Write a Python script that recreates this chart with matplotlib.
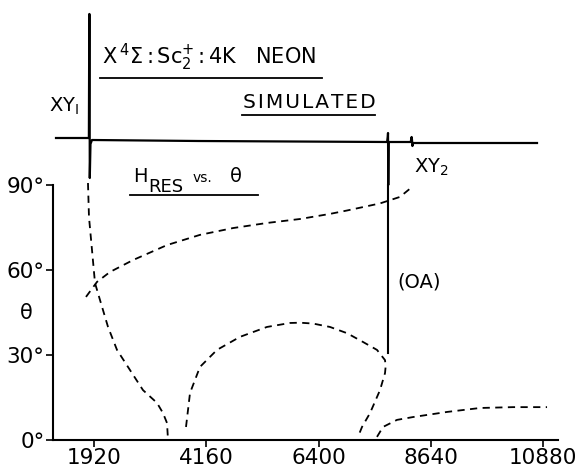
import matplotlib
matplotlib.use("Agg")
import matplotlib.pyplot as plt
from matplotlib.lines import Line2D

W, H = 579, 468

# field axis (gauss) and angle axis (degrees)
x_ticks = [1920, 4160, 6400, 8640, 10880]
y_ticks = [0, 30, 60, 90]
y_labels = ["0°", "30°", "60°", "90°"]

# simulated derivative spectrum, arbitrary units (0 = baseline)
spec_h = [1162, 1818, 1826, 1830, 1836, 1850, 1880, 4000, 7770, 7782,
          7787, 7792, 7800, 8240, 8258, 8266, 8274, 8290, 10760]
spec_amp = [0, 0, 124, 124, -40, -6, -2, -3, -4, 1,
            5, -47, -4, -4, 1, -2, -8, -5, -5]

# H_RES vs theta branches
a_h = [1800, 1820, 1880, 1940, 2040, 2200, 2379, 2638, 2898, 3177, 3297, 3377, 3397]
a_t = [90.7, 78.7, 67.1, 55.4, 49.4, 39.9, 31.8, 24.7, 17.6, 13.1, 9.5, 6.0, 0.0]

b_h = [1760, 1980, 2239, 2698, 3377, 4035, 4694, 5372, 6031, 6629, 6969, 7627, 8026, 8266]
b_t = [50.5, 55.8, 59.3, 63.5, 68.8, 72.4, 74.8, 76.6, 78.0, 79.8, 81.0, 83.5, 85.8, 89.3]

c_h = [3756, 3836, 4035, 4374, 4833, 5372, 5831, 6031, 6290, 6629, 6969, 7288,
       7567, 7727, 7740, 7727, 7627, 7428, 7268, 7188]
c_t = [4.6, 16.6, 25.8, 31.8, 36.4, 39.9, 41.3, 41.4, 41.1, 39.9, 37.7, 34.6,
       31.8, 28.2, 26.0, 23.6, 17.6, 9.5, 4.6, 1.1]

d_h = [7567, 7687, 7966, 8286, 8964, 9623, 10281, 10960]
d_t = [1.1, 4.6, 7.1, 8.1, 9.9, 11.3, 11.6, 11.6]

oa_h = [7787, 7787]
oa_t = [30.7, 90]

xlim = (1102, 11179)

plt.rcParams['font.family'] = ['DejaVu Sans']
plt.rcParams['mathtext.fontset'] = 'dejavusans'

fig = plt.figure(figsize=(W / 100, H / 100), dpi=100)

ax = fig.add_axes([53 / W, 28 / H, 505 / W, 255 / H])
top = fig.add_axes([53 / W, 283 / H, 505 / W, 185 / H])

# spectrum
top.plot(spec_h, spec_amp, color='black', lw=1.6, clip_on=False)
top.set_xlim(*xlim)
top.set_ylim(-47, 138)
top.axis('off')

dash = dict(color='black', lw=1.3, dashes=(4, 3))
ax.plot(a_h, a_t, clip_on=False, **dash)
ax.plot(b_h, b_t, clip_on=False, **dash)
ax.plot(c_h, c_t, clip_on=False, **dash)
ax.plot(d_h, d_t, clip_on=False, **dash)
ax.plot(oa_h, oa_t, color='black', lw=1.5, clip_on=False)

ax.set_xlim(*xlim)
ax.set_ylim(0, 90)
ax.spines['top'].set_visible(False)
ax.spines['right'].set_visible(False)
ax.spines['left'].set_linewidth(1.5)
ax.spines['bottom'].set_linewidth(1.5)
ax.set_xticks(x_ticks)
ax.set_xticklabels([str(v) for v in x_ticks])
ax.set_yticks(y_ticks)
ax.set_yticklabels(y_labels)
ax.tick_params(direction='out', length=5, width=1.2, labelsize=15.5, pad=1)


def px(x, y):
    return x / W, 1 - y / H


def uline(x0, x1, y):
    fig.add_artist(Line2D([x0 / W, x1 / W], [1 - y / H, 1 - y / H],
                          transform=fig.transFigure, color='black', lw=1.3))


fig.text(*px(102, 64), r"X$\,^{4}\Sigma\,$:$\,$Sc$_{2}^{+}\,$:$\,$4K   NEON",
         fontsize=15, va='baseline')
uline(100, 322, 78)
fig.text(*px(243, 108), "\u200a".join("SIMULATED"), fontsize=14.5, va='baseline')
uline(242, 375, 115)
fig.text(*px(49, 112), r"XY$_{\rm I}$", fontsize=14, va='baseline')

fig.text(*px(133, 182), "H", fontsize=14, va='baseline')
fig.text(*px(148, 192), "RES", fontsize=13, va='baseline')
fig.text(*px(193, 182), "vs.", fontsize=10, va='baseline')
fig.text(*px(230, 182), "θ", fontsize=14, va='baseline')
uline(130, 258, 195)

fig.text(*px(414, 173), r"XY$_2$", fontsize=14, va='baseline')
fig.text(*px(397, 287), "(OA)", fontsize=14, va='baseline')
fig.text(*px(26, 313), "θ", fontsize=15, ha='center', va='center')

fig.savefig("out.png", dpi=100)
